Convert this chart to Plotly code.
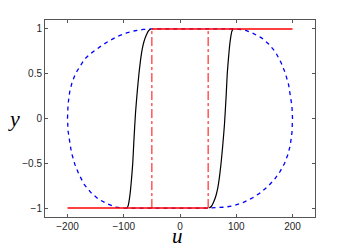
import plotly.graph_objects as go

# bound curve (blue dashed)
bound_u = [-200, -199, -196, -192, -186, -178, -170, -160, -150, -138, -125, -110, -95, -80, -65, -50,
           100, 115, 130, 145, 158, 170, 180, 187, 193, 197, 199, 200,
           199, 196, 192, 186, 178, 168, 156, 143, 128, 112, 95, 80, 65, 50,
           -100, -115, -130, -145, -158, -170, -180, -187, -193, -197, -199, -200]
bound_y = [0, 0.16, 0.3, 0.4, 0.5, 0.58, 0.66, 0.72, 0.77, 0.82, 0.87, 0.92, 0.955, 0.98, 0.995, 1,
           1, 0.99, 0.95, 0.9, 0.83, 0.74, 0.62, 0.51, 0.38, 0.24, 0.14, 0,
           -0.16, -0.3, -0.4, -0.5, -0.59, -0.68, -0.76, -0.83, -0.89, -0.94, -0.975, -0.99, -0.998, -1,
           -1, -0.99, -0.95, -0.9, -0.83, -0.74, -0.62, -0.51, -0.38, -0.24, -0.14, 0]

# smooth hysteresis branches (black)
up_u = [52, 56, 60, 64, 67, 70, 73, 76, 79, 82, 84, 86, 88, 90, 92, 94]
up_y = [-1, -0.98, -0.93, -0.86, -0.78, -0.66, -0.5, -0.3, -0.07, 0.25, 0.5, 0.66, 0.8, 0.9, 0.97, 1]
down_u = [-52, -56, -60, -64, -67, -70, -73, -76, -79, -82, -84, -86, -88, -90, -92, -94]
down_y = [1, 0.98, 0.93, 0.86, 0.78, 0.66, 0.5, 0.3, 0.07, -0.25, -0.5, -0.66, -0.8, -0.9, -0.97, -1]

# relay (red)
relay_low_u = [-200, 50]
relay_high_u = [-50, 200]
switch_u = [-50, 50]

xticks = [-200, -100, 0, 100, 200]
yticks = [-1, -0.5, 0, 0.5, 1]

BLUE = "#0000ff"
RED = "#ff0000"
AX = "#555555"

fig = go.Figure()

fig.add_trace(go.Scatter(x=bound_u, y=bound_y, mode="lines",
                         line=dict(color=BLUE, width=1.3, dash="4px,4px")))

fig.add_trace(go.Scatter(x=up_u, y=up_y, mode="lines", line_shape="spline",
                         line=dict(color="black", width=1.2, smoothing=0.5)))
fig.add_trace(go.Scatter(x=down_u, y=down_y, mode="lines", line_shape="spline",
                         line=dict(color="black", width=1.2, smoothing=0.5)))

fig.add_trace(go.Scatter(x=relay_low_u, y=[-1, -1], mode="lines",
                         line=dict(color=RED, width=1.5)))
fig.add_trace(go.Scatter(x=relay_high_u, y=[1, 1], mode="lines",
                         line=dict(color=RED, width=1.5)))
for su in switch_u:
    fig.add_trace(go.Scatter(x=[su, su], y=[-1, 1], mode="lines",
                             line=dict(color=RED, width=1, dash="dashdot")))

fig.update_layout(
    width=349, height=250,
    margin=dict(l=45, r=34, t=20, b=33),
    paper_bgcolor="white", plot_bgcolor="white",
    showlegend=False,
    font=dict(family="Liberation Sans, Arial", size=10, color="#262626"),
    annotations=[
        dict(text="<i>u</i>", x=0.49, y=0, xref="paper", yref="paper",
             xanchor="center", yanchor="bottom", yshift=-33, showarrow=False,
             font=dict(family="Liberation Serif, Times New Roman", size=21, color="black")),
        dict(text="<i>y</i>", x=0, y=0.5, xref="paper", yref="paper",
             xanchor="right", yanchor="middle", xshift=-23, showarrow=False,
             font=dict(family="Liberation Serif, Times New Roman", size=22, color="black")),
    ],
)
fig.update_xaxes(range=[-240, 240], tickvals=xticks, ticks="inside", ticklen=3,
                 showline=True, linecolor=AX, linewidth=1, mirror="ticks",
                 tickcolor=AX, showgrid=False, zeroline=False, automargin=False)
fig.update_yaxes(range=[-1.1, 1.1], tickvals=yticks, ticks="inside", ticklen=3,
                 showline=True, linecolor=AX, linewidth=1, mirror="ticks",
                 tickcolor=AX, showgrid=False, zeroline=False, automargin=False)

# the page's default body margin would shift the figure
fig.write_html("out.html", config={"displayModeBar": False},
               post_script="document.body.style.margin='0';")
